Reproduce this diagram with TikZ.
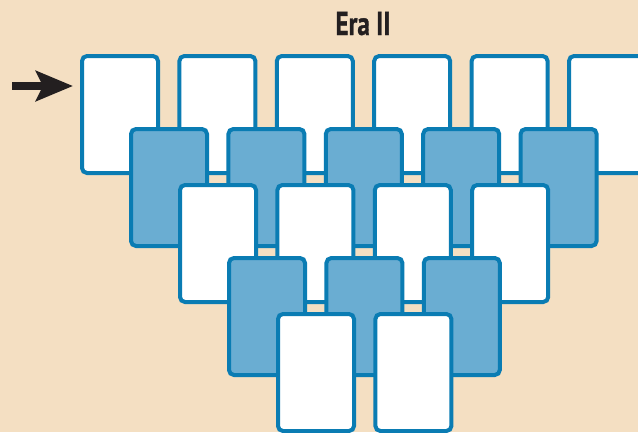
\documentclass[tikz,border=0pt]{standalone}
\usepackage{fontspec}
\newfontfamily\titlefont[BoldFeatures={FakeBold=1.2}]{PT Sans}
\usetikzlibrary{arrows.meta, positioning}
\definecolor{parchment}{HTML}{F4DFC2}
\definecolor{cardline}{HTML}{0A7CB3}
\definecolor{cardblue}{HTML}{6AADD2}
\definecolor{arrowink}{HTML}{231F20}

\begin{document}
\begin{tikzpicture}[
        x=1pt, y=-1pt,
        node distance=17.4pt,
        card/.style={rectangle, rounded corners=5pt, draw=cardline, line width=4pt, minimum width=76pt, minimum height=117pt, inner sep=0pt},
        faceup/.style={card, fill=white},
        facedown/.style={card, fill=cardblue},
        title/.style={font=\titlefont\bfseries\fontsize{33}{33}\selectfont, anchor=base, text=arrowink},
        arrow/.style={-{Stealth[length=37pt, width=30pt, inset=7pt]}, line width=8pt, draw=arrowink},
        ]

        % Background
        \fill[parchment] (0,0) rectangle (638,432);
        \useasboundingbox (0,0) rectangle (638,432);
        \clip (0,0) rectangle (638,432);

        % Title
        \node[title] (era) at (363,35) {\scalebox{0.76}[1]{Era II}};

        % Row 1 (face up)
        \node[faceup] (c11) at (120,114.5) {};
        \node[faceup, right=of c11] (c12) {};
        \node[faceup, right=of c12] (c13) {};
        \node[faceup, right=of c13] (c14) {};
        \node[faceup, right=of c14] (c15) {};
        \node[faceup, right=of c15] (c16) {};

        % Row 2 (face down)
        \node[facedown] (c21) at (169,187.5) {};
        \node[facedown, right=of c21] (c22) {};
        \node[facedown, right=of c22] (c23) {};
        \node[facedown, right=of c23] (c24) {};
        \node[facedown, right=of c24] (c25) {};

        % Row 3 (face up)
        \node[faceup] (c31) at (218,243.5) {};
        \node[faceup, right=of c31] (c32) {};
        \node[faceup, right=of c32] (c33) {};
        \node[faceup, right=of c33] (c34) {};

        % Row 4 (face down)
        \node[facedown] (c41) at (267,316.5) {};
        \node[facedown, right=of c41] (c42) {};
        \node[facedown, right=of c42] (c43) {};

        % Row 5 (face up)
        \node[faceup] (c51) at (316,372.5) {};
        \node[faceup, right=of c51] (c52) {};

        % Start arrow
        \coordinate (start) at (12,86);
        \draw[arrow, shorten >=7pt] (start) -- (start -| c11.west);

    \end{tikzpicture}
\end{document}
